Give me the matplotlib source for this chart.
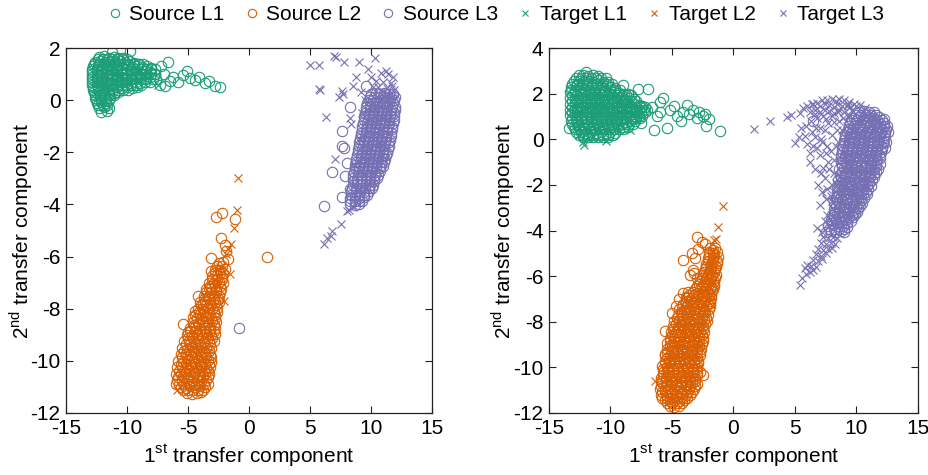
import numpy as np
import matplotlib
matplotlib.use("Agg")
import matplotlib.pyplot as plt
from matplotlib.lines import Line2D

plt.rcParams['font.family'] = ['Liberation Sans', 'DejaVu Sans']
plt.rcParams['mathtext.fontset'] = 'custom'
plt.rcParams['mathtext.rm'] = 'Liberation Sans'
plt.rcParams['axes.unicode_minus'] = False


def pts(*strings):
    s = ' '.join(strings)
    a = np.array(s.replace(',', ' ').split(), dtype=float).reshape(-1, 2)
    return a[:, 0], a[:, 1]


# ---- left panel --------------------------------------------------------
left_src1 = """
-12.3,1.64 -11.9,1.68 -11.5,1.62 -11.1,1.66 -10.7,1.6 -10.3,1.63
-12.6,1.48 -12.2,1.52 -11.8,1.46 -11.4,1.5 -11.0,1.47 -10.6,1.52 -10.2,1.45 -9.8,1.5 -9.4,1.44 -9.0,1.4
-12.8,1.3 -12.4,1.33 -12.0,1.28 -11.6,1.32 -11.2,1.27 -10.8,1.31 -10.4,1.29 -10.0,1.33 -9.6,1.27 -9.2,1.3 -8.8,1.26 -8.4,1.3 -8.0,1.24 -7.7,1.2
-12.9,1.1 -12.5,1.12 -12.1,1.08 -11.7,1.13 -11.3,1.07 -10.9,1.1 -10.5,1.12 -10.1,1.06 -9.7,1.1 -9.3,1.12 -8.9,1.05 -8.5,1.1 -8.1,1.08 -7.7,1.02
-12.9,0.9 -12.5,0.88 -12.1,0.92 -11.7,0.87 -11.3,0.91 -10.9,0.88 -10.5,0.9 -10.1,0.86 -9.7,0.92 -9.3,0.88 -8.9,0.9 -8.5,0.85 -8.1,0.88 -7.6,0.82
-12.9,0.7 -12.5,0.72 -12.1,0.68 -11.7,0.71 -11.3,0.67 -10.9,0.72 -10.5,0.68 -10.1,0.7 -9.7,0.66 -9.3,0.7 -8.9,0.65 -8.5,0.68 -8.1,0.7
-12.8,0.5 -12.4,0.52 -12.0,0.48 -11.6,0.51 -11.2,0.47 -10.8,0.52 -10.4,0.48 -10.0,0.5 -9.6,0.46 -9.2,0.5
-12.7,0.3 -12.3,0.32 -11.9,0.28 -11.5,0.31 -11.1,0.27 -10.7,0.33
-12.6,0.1 -12.2,0.12 -11.8,0.08 -11.4,0.1
-12.5,-0.1 -12.1,-0.08 -11.7,-0.12
-12.3,-0.3 -11.9,-0.28 -11.5,-0.32
-12.1,-0.45 -11.6,-0.4
-11.2,1.85 -9.75,1.88 -6.6,1.46 -7.2,1.3 -7.0,1.0 -7.3,0.6 -6.9,0.55 -6.5,0.75 -6.2,0.9
-5.8,0.7 -5.4,0.96 -5.1,1.1 -4.8,0.85 -4.4,0.77 -4.1,0.9 -3.6,0.66 -3.3,0.72 -2.8,0.54 -2.4,0.5
"""
left_src1_core = """
-12.4,1.57 -12.0,1.57 -11.6,1.57 -11.2,1.57 -10.8,1.57 -10.4,1.57 -10.0,1.57
-12.7,1.4 -12.3,1.4 -11.9,1.4 -11.5,1.4 -11.1,1.4 -10.7,1.4 -10.3,1.4 -9.9,1.4 -9.5,1.4 -9.1,1.4 -8.7,1.4
-12.85,1.2 -12.45,1.2 -12.05,1.2 -11.65,1.2 -11.25,1.2 -10.85,1.2 -10.45,1.2 -10.05,1.2 -9.65,1.2 -9.25,1.2 -8.85,1.2 -8.45,1.2 -8.05,1.2
-12.85,1.0 -12.45,1.0 -12.05,1.0 -11.65,1.0 -11.25,1.0 -10.85,1.0 -10.45,1.0 -10.05,1.0 -9.65,1.0 -9.25,1.0 -8.85,1.0 -8.45,1.0 -8.05,1.0 -7.7,1.0
-12.85,0.8 -12.45,0.8 -12.05,0.8 -11.65,0.8 -11.25,0.8 -10.85,0.8 -10.45,0.8 -10.05,0.8 -9.65,0.8 -9.25,0.8 -8.85,0.8 -8.45,0.8 -7.9,0.8
-12.85,0.6 -12.45,0.6 -12.05,0.6 -11.65,0.6 -11.25,0.6 -10.85,0.6 -10.45,0.6 -10.05,0.6 -9.65,0.6 -9.25,0.6 -8.85,0.6
-12.75,0.4 -12.35,0.4 -11.95,0.4 -11.55,0.4 -11.15,0.4 -10.75,0.4 -10.35,0.4 -9.95,0.4
-12.65,0.2 -12.25,0.2 -11.85,0.2 -11.45,0.2 -11.05,0.2
-12.55,0.0 -12.15,0.0 -11.75,0.0 -11.45,0.0
-12.4,-0.2 -12.0,-0.2 -11.6,-0.2
"""
left_tgt1 = "-7.5,0.58 -12.0,0.6 -11.0,1.0 -10.2,0.8 -9.0,1.1"

left_src2 = """
-5.1,-11.25 -4.7,-11.28 -4.3,-11.22 -3.9,-11.2
-5.6,-11.0 -5.2,-11.03 -4.8,-10.98 -4.4,-11.02 -4.0,-10.97 -3.6,-11.0
-5.9,-10.75 -5.5,-10.78 -5.1,-10.72 -4.7,-10.76 -4.3,-10.73 -3.9,-10.77 -3.5,-10.72
-6.0,-10.5 -5.6,-10.52 -5.2,-10.47 -4.8,-10.51 -4.4,-10.48 -4.0,-10.53 -3.6,-10.47 -3.3,-10.5
-5.9,-10.25 -5.5,-10.22 -5.1,-10.27 -4.7,-10.24 -4.3,-10.28 -3.9,-10.23 -3.5,-10.26 -3.2,-10.22
-5.8,-10.0 -5.4,-10.03 -5.0,-9.98 -4.6,-10.02 -4.2,-9.97 -3.8,-10.01 -3.4,-9.98 -3.1,-10.03
-5.6,-9.75 -5.2,-9.72 -4.8,-9.77 -4.4,-9.73 -4.0,-9.78 -3.6,-9.74 -3.2,-9.76
-5.5,-9.5 -5.1,-9.53 -4.7,-9.48 -4.3,-9.52 -3.9,-9.47 -3.5,-9.51 -3.1,-9.49
-5.3,-9.25 -4.9,-9.22 -4.5,-9.27 -4.1,-9.23 -3.7,-9.26 -3.3,-9.24 -2.9,-9.22
-5.1,-9.0 -4.7,-9.03 -4.3,-8.98 -3.9,-9.02 -3.5,-8.97 -3.1,-9.01 -2.8,-8.98
-4.8,-8.75 -4.4,-8.72 -4.0,-8.77 -3.6,-8.73 -3.2,-8.76 -2.8,-8.74
-4.6,-8.5 -4.2,-8.53 -3.8,-8.48 -3.4,-8.52 -3.0,-8.47 -2.7,-8.51
-4.4,-8.25 -4.0,-8.22 -3.6,-8.27 -3.2,-8.23 -2.8,-8.26
-4.2,-8.0 -3.8,-8.03 -3.4,-7.98 -3.0,-8.02 -2.6,-7.97
-4.0,-7.75 -3.6,-7.72 -3.2,-7.77 -2.8,-7.73 -2.45,-7.76
-3.7,-7.5 -3.3,-7.53 -2.9,-7.48 -2.5,-7.52
-3.5,-7.25 -3.1,-7.22 -2.7,-7.27 -2.3,-7.23
-3.3,-7.0 -2.9,-7.03 -2.5,-6.98 -2.15,-7.02
-3.0,-6.75 -2.6,-6.72 -2.2,-6.77
-2.8,-6.5 -2.4,-6.53 -2.0,-6.48
-2.5,-6.25 -2.1,-6.22
-2.7,-4.5 -2.2,-4.33 -1.15,-4.55 -3.1,-6.05 -3.1,-6.55 -3.3,-7.2 -5.4,-8.6 -4.4,-8.1
-3.8,-7.8 1.5,-6.0 -1.9,-5.8 -1.75,-6.1 -2.0,-5.55 -4.6,-8.3 -2.3,-5.3 -6.0,-10.9
-5.0,-8.9 -4.2,-7.5
"""
left_src2_core = """
-5.4,-11.12 -5.0,-11.12 -4.6,-11.12 -4.2,-11.12 -3.8,-11.12
-5.7,-10.87 -5.3,-10.87 -4.9,-10.87 -4.5,-10.87 -4.1,-10.87 -3.7,-10.87 -3.4,-10.87
-5.8,-10.62 -5.4,-10.62 -5.0,-10.62 -4.6,-10.62 -4.2,-10.62 -3.8,-10.62 -3.4,-10.62
-5.7,-10.37 -5.3,-10.37 -4.9,-10.37 -4.5,-10.37 -4.1,-10.37 -3.7,-10.37 -3.35,-10.37
-5.6,-10.12 -5.2,-10.12 -4.8,-10.12 -4.4,-10.12 -4.0,-10.12 -3.6,-10.12 -3.3,-10.12
-5.5,-9.87 -5.1,-9.87 -4.7,-9.87 -4.3,-9.87 -3.9,-9.87 -3.5,-9.87 -3.15,-9.87
-5.3,-9.62 -4.9,-9.62 -4.5,-9.62 -4.1,-9.62 -3.7,-9.62 -3.3,-9.62
-5.2,-9.37 -4.8,-9.37 -4.4,-9.37 -4.0,-9.37 -3.6,-9.37 -3.2,-9.37
-5.0,-9.12 -4.6,-9.12 -4.2,-9.12 -3.8,-9.12 -3.4,-9.12 -3.0,-9.12
-4.8,-8.87 -4.4,-8.87 -4.0,-8.87 -3.6,-8.87 -3.2,-8.87 -2.9,-8.87
-4.5,-8.62 -4.1,-8.62 -3.7,-8.62 -3.3,-8.62 -2.9,-8.62
-4.3,-8.37 -3.9,-8.37 -3.5,-8.37 -3.1,-8.37 -2.75,-8.37
-4.1,-8.12 -3.7,-8.12 -3.3,-8.12 -2.9,-8.12 -2.65,-8.12
-3.9,-7.87 -3.5,-7.87 -3.1,-7.87 -2.7,-7.87
-3.7,-7.62 -3.3,-7.62 -2.9,-7.62 -2.55,-7.62
-3.5,-7.37 -3.1,-7.37 -2.7,-7.37 -2.4,-7.37
-3.2,-7.12 -2.8,-7.12 -2.4,-7.12
-3.0,-6.87 -2.6,-6.87 -2.25,-6.87
-2.8,-6.62 -2.4,-6.62 -2.1,-6.62
-2.6,-6.37 -2.2,-6.37
"""
left_tgt2 = """
-0.9,-3.0 -1.0,-4.2 -1.25,-4.9 -1.5,-5.5 -1.85,-5.9 -1.7,-5.7 -1.55,-6.65 -2.05,-7.7
-2.4,-6.4 -2.6,-7.0 -5.9,-11.1
"""

left_src3 = """
10.0,0.25 10.4,0.27 10.75,0.23 11.1,0.26 11.45,0.22 11.8,0.25
9.8,0.0 10.15,0.02 10.5,-0.03 10.85,0.01 11.2,-0.02 11.55,0.03 11.9,-0.01
9.6,-0.25 9.95,-0.23 10.3,-0.27 10.65,-0.24 11.0,-0.26 11.35,-0.22 11.7,-0.25 12.0,-0.28
9.5,-0.5 9.85,-0.52 10.2,-0.48 10.55,-0.51 10.9,-0.47 11.25,-0.52 11.6,-0.49 11.9,-0.5
9.4,-0.75 9.75,-0.73 10.1,-0.77 10.45,-0.74 10.8,-0.76 11.15,-0.72 11.5,-0.75 11.85,-0.78
9.3,-1.0 9.65,-1.03 10.0,-0.98 10.35,-1.02 10.7,-0.97 11.05,-1.01 11.4,-0.99 11.75,-1.02
9.2,-1.25 9.55,-1.22 9.9,-1.27 10.25,-1.23 10.6,-1.26 10.95,-1.24 11.3,-1.22 11.65,-1.27
9.1,-1.5 9.45,-1.53 9.8,-1.48 10.15,-1.52 10.5,-1.47 10.85,-1.51 11.2,-1.49 11.55,-1.52
9.0,-1.75 9.35,-1.72 9.7,-1.77 10.05,-1.73 10.4,-1.76 10.75,-1.74 11.1,-1.72 11.45,-1.77
8.9,-2.0 9.25,-2.03 9.6,-1.98 9.95,-2.02 10.3,-1.97 10.65,-2.01 11.0,-1.99 11.3,-2.02
8.8,-2.25 9.15,-2.22 9.5,-2.27 9.85,-2.23 10.2,-2.26 10.55,-2.24 10.9,-2.22 11.15,-2.27
8.7,-2.5 9.05,-2.53 9.4,-2.48 9.75,-2.52 10.1,-2.47 10.45,-2.51 10.8,-2.49 11.0,-2.52
8.6,-2.75 8.95,-2.72 9.3,-2.77 9.65,-2.73 10.0,-2.76 10.35,-2.74 10.75,-2.72
8.5,-3.0 8.85,-3.03 9.2,-2.98 9.55,-3.02 9.9,-2.97 10.25,-3.01 10.5,-2.99
8.5,-3.25 8.85,-3.22 9.2,-3.27 9.55,-3.23 9.9,-3.26 10.2,-3.24
8.4,-3.5 8.75,-3.53 9.1,-3.48 9.45,-3.52 9.85,-3.47
8.3,-3.75 8.65,-3.72 9.0,-3.77 9.45,-3.73
8.3,-4.0 8.65,-4.03 9.0,-3.98
9.6,0.55 8.3,-0.25 7.6,-1.2 7.6,-1.75 7.75,-1.85 6.8,-2.75 6.15,-4.05 8.0,-2.4 8.3,-3.4
7.6,-3.7 7.9,-2.9 -0.8,-8.75
"""
left_src3_core = """
9.9,0.12 10.25,0.12 10.6,0.12 10.95,0.12 11.3,0.12 11.65,0.12 11.95,0.12
9.7,-0.12 10.05,-0.12 10.4,-0.12 10.75,-0.12 11.1,-0.12 11.45,-0.12 11.8,-0.12
9.55,-0.37 9.9,-0.37 10.25,-0.37 10.6,-0.37 10.95,-0.37 11.3,-0.37 11.65,-0.37 11.95,-0.37
9.45,-0.62 9.8,-0.62 10.15,-0.62 10.5,-0.62 10.85,-0.62 11.2,-0.62 11.55,-0.62 11.85,-0.62
9.35,-0.87 9.7,-0.87 10.05,-0.87 10.4,-0.87 10.75,-0.87 11.1,-0.87 11.45,-0.87 11.8,-0.87
9.25,-1.12 9.6,-1.12 9.95,-1.12 10.3,-1.12 10.65,-1.12 11.0,-1.12 11.35,-1.12 11.7,-1.12
9.15,-1.37 9.5,-1.37 9.85,-1.37 10.2,-1.37 10.55,-1.37 10.9,-1.37 11.25,-1.37 11.6,-1.37
9.05,-1.62 9.4,-1.62 9.75,-1.62 10.1,-1.62 10.45,-1.62 10.8,-1.62 11.15,-1.62 11.5,-1.62
8.95,-1.87 9.3,-1.87 9.65,-1.87 10.0,-1.87 10.35,-1.87 10.7,-1.87 11.05,-1.87 11.4,-1.87
8.85,-2.12 9.2,-2.12 9.55,-2.12 9.9,-2.12 10.25,-2.12 10.6,-2.12 10.95,-2.12 11.25,-2.12
8.75,-2.37 9.1,-2.37 9.45,-2.37 9.8,-2.37 10.15,-2.37 10.5,-2.37 10.85,-2.37 11.1,-2.37
8.65,-2.62 9.0,-2.62 9.35,-2.62 9.7,-2.62 10.05,-2.62 10.4,-2.62 10.75,-2.62
8.55,-2.87 8.9,-2.87 9.25,-2.87 9.6,-2.87 9.95,-2.87 10.3,-2.87 10.6,-2.87
8.5,-3.12 8.85,-3.12 9.2,-3.12 9.55,-3.12 9.9,-3.12 10.25,-3.12
8.45,-3.37 8.8,-3.37 9.15,-3.37 9.5,-3.37 9.85,-3.37 10.05,-3.37
8.35,-3.62 8.7,-3.62 9.05,-3.62 9.4,-3.62 9.7,-3.62
8.3,-3.87 8.65,-3.87 9.0,-3.87 9.3,-3.87
"""
left_tgt3 = """
5.0,1.35 5.7,1.35 7.0,1.7 7.1,1.65 7.8,1.46 9.0,1.46 10.3,1.6 5.7,0.43 5.8,0.38 7.6,0.35
7.4,0.12 7.7,0.25 8.5,0.54 6.3,-0.65 8.3,-0.7 8.4,-0.9 7.05,-2.26 8.0,-4.27 7.5,-4.75
6.8,-5.0 6.7,-5.2 6.15,-5.5 6.4,-5.3 9.75,1.2 10.0,0.9 11.4,1.0 11.6,0.65 11.0,0.7 10.6,0.5
11.2,1.1 11.8,0.9 11.9,0.4 10.8,1.05 10.4,0.75 9.2,0.3 9.5,0.0 11.5,0.2 12.0,0.1 11.7,0.55
11.3,0.45 10.9,0.35 10.2,0.5 8.8,-3.9 8.5,-4.1 8.2,-4.2 9.0,-3.5 8.7,-3.2 8.6,-2.5
9.0,-1.5 9.3,-0.5 8.8,0.9
"""

# ---- right panel -------------------------------------------------------
right_src1 = """
-12.6,2.8 -12.2,2.83 -11.8,2.78 -11.4,2.82 -11.0,2.77
-13.0,2.55 -12.6,2.57 -12.2,2.52 -11.8,2.56 -11.4,2.53 -11.0,2.58 -10.6,2.52 -10.2,2.5
-13.2,2.3 -12.8,2.33 -12.4,2.28 -12.0,2.32 -11.6,2.27 -11.2,2.31 -10.8,2.28 -10.4,2.33 -10.0,2.27 -9.6,2.25
-13.3,2.05 -12.9,2.07 -12.5,2.02 -12.1,2.06 -11.7,2.03 -11.3,2.07 -10.9,2.02 -10.5,2.06 -10.1,2.03 -9.7,2.05 -9.3,2.01 -8.9,2.0 -8.6,1.97
-13.3,1.8 -12.9,1.78 -12.5,1.83 -12.1,1.79 -11.7,1.82 -11.3,1.77 -10.9,1.81 -10.5,1.78 -10.1,1.83 -9.7,1.79 -9.3,1.82 -8.9,1.77 -8.5,1.8 -8.1,1.76
-13.3,1.55 -12.9,1.57 -12.5,1.52 -12.1,1.56 -11.7,1.53 -11.3,1.58 -10.9,1.52 -10.5,1.56 -10.1,1.53 -9.7,1.57 -9.3,1.52 -8.9,1.55 -8.5,1.51 -8.1,1.54 -7.7,1.5 -7.4,1.47
-13.3,1.3 -12.9,1.28 -12.5,1.33 -12.1,1.29 -11.7,1.32 -11.3,1.27 -10.9,1.31 -10.5,1.28 -10.1,1.33 -9.7,1.29 -9.3,1.32 -8.9,1.27 -8.5,1.31 -8.1,1.28 -7.7,1.3 -7.3,1.27 -7.0,1.3
-13.3,1.05 -12.9,1.07 -12.5,1.02 -12.1,1.06 -11.7,1.03 -11.3,1.08 -10.9,1.02 -10.5,1.06 -10.1,1.03 -9.7,1.07 -9.3,1.02 -8.9,1.05 -8.5,1.01 -8.1,1.04 -7.7,1.0 -7.4,1.02
-13.2,0.8 -12.8,0.78 -12.4,0.83 -12.0,0.79 -11.6,0.82 -11.2,0.77 -10.8,0.81 -10.4,0.78 -10.0,0.83 -9.6,0.79 -9.2,0.82 -8.8,0.77 -8.4,0.8 -8.0,0.78
-13.0,0.55 -12.6,0.57 -12.2,0.52 -11.8,0.56 -11.4,0.53 -11.0,0.58 -10.6,0.52 -10.2,0.56 -9.8,0.53 -9.4,0.57 -9.0,0.52 -8.6,0.55
-12.8,0.3 -12.4,0.32 -12.0,0.28 -11.6,0.31 -11.2,0.27 -10.8,0.33 -10.4,0.29 -10.0,0.31 -9.6,0.28
-12.2,0.1 -11.8,0.12 -11.4,0.08 -11.0,0.11 -10.6,0.09 -10.2,0.12
-6.95,2.2 -6.0,1.64 -5.2,1.3 -4.8,1.45 -5.4,0.5 -6.2,1.0 -4.1,1.2 -3.3,1.3 -3.0,0.95 -2.2,0.6
-1.1,0.35 -3.6,1.1 -2.8,1.2 -4.6,1.0 -6.0,1.2 -6.6,1.4 -2.5,1.0 -2.0,0.9 -2.3,1.1 -3.8,1.5
-4.3,0.8 -7.5,0.7 -13.4,0.5 -12.0,2.95 -8.2,0.9 -5.7,1.8 -6.5,0.4 -7.8,2.2 -9.0,2.4
"""
right_src1_core = """
-12.8,2.68 -12.4,2.68 -12.0,2.68 -11.6,2.68 -11.2,2.68 -10.8,2.68 -10.4,2.68
-13.1,2.43 -12.7,2.43 -12.3,2.43 -11.9,2.43 -11.5,2.43 -11.1,2.43 -10.7,2.43 -10.3,2.43 -9.9,2.43
-13.25,2.18 -12.85,2.18 -12.45,2.18 -12.05,2.18 -11.65,2.18 -11.25,2.18 -10.85,2.18 -10.45,2.18 -10.05,2.18 -9.65,2.18 -9.25,2.18
-13.1,1.93 -12.7,1.93 -12.3,1.93 -11.9,1.93 -11.5,1.93 -11.1,1.93 -10.7,1.93 -10.3,1.93 -9.9,1.93 -9.5,1.93 -9.1,1.93 -8.7,1.93 -8.3,1.93
-13.1,1.68 -12.7,1.68 -12.3,1.68 -11.9,1.68 -11.5,1.68 -11.1,1.68 -10.7,1.68 -10.3,1.68 -9.9,1.68 -9.5,1.68 -9.1,1.68 -8.7,1.68 -8.3,1.68 -7.9,1.68
-13.1,1.43 -12.7,1.43 -12.3,1.43 -11.9,1.43 -11.5,1.43 -11.1,1.43 -10.7,1.43 -10.3,1.43 -9.9,1.43 -9.5,1.43 -9.1,1.43 -8.7,1.43 -8.3,1.43 -7.9,1.43 -7.5,1.43 -7.2,1.43
-13.1,1.18 -12.7,1.18 -12.3,1.18 -11.9,1.18 -11.5,1.18 -11.1,1.18 -10.7,1.18 -10.3,1.18 -9.9,1.18 -9.5,1.18 -9.1,1.18 -8.7,1.18 -8.3,1.18 -7.9,1.18 -7.5,1.18 -7.2,1.18
-13.1,0.93 -12.7,0.93 -12.3,0.93 -11.9,0.93 -11.5,0.93 -11.1,0.93 -10.7,0.93 -10.3,0.93 -9.9,0.93 -9.5,0.93 -9.1,0.93 -8.7,0.93 -8.3,0.93 -7.9,0.93 -7.6,0.93
-13.1,0.68 -12.7,0.68 -12.3,0.68 -11.9,0.68 -11.5,0.68 -11.1,0.68 -10.7,0.68 -10.3,0.68 -9.9,0.68 -9.5,0.68 -9.1,0.68 -8.7,0.68 -8.2,0.68
-12.9,0.43 -12.5,0.43 -12.1,0.43 -11.7,0.43 -11.3,0.43 -10.9,0.43 -10.5,0.43 -10.1,0.43 -9.7,0.43 -9.3,0.43 -9.0,0.43
-12.6,0.2 -12.2,0.2 -11.8,0.2 -11.4,0.2 -11.0,0.2 -10.6,0.2 -10.2,0.2 -9.8,0.2
"""
right_tgt1 = """
-12.2,-0.12 -11.4,0.14 -10.4,-0.08 -12.15,-0.25 -11.8,0.05 -8.4,0.4 -9.5,0.5 -11.0,1.5
-10.0,1.0 -12.6,0.2
"""

right_src2 = """
-5.2,-11.7 -4.8,-11.72 -4.4,-11.68
-5.6,-11.45 -5.2,-11.47 -4.8,-11.43 -4.4,-11.46 -4.0,-11.44
-5.9,-11.2 -5.5,-11.22 -5.1,-11.18 -4.7,-11.21 -4.3,-11.17 -3.9,-11.22 -3.5,-11.19
-6.0,-10.95 -5.6,-10.97 -5.2,-10.93 -4.8,-10.96 -4.4,-10.92 -4.0,-10.97 -3.6,-10.94 -3.2,-10.96
-5.8,-10.7 -5.4,-10.72 -5.0,-10.68 -4.6,-10.71 -4.2,-10.67 -3.8,-10.72 -3.4,-10.69 -3.0,-10.71
-5.9,-10.45 -5.5,-10.47 -5.1,-10.43 -4.7,-10.46 -4.3,-10.42 -3.9,-10.47 -3.5,-10.44 -3.1,-10.46
-5.7,-10.2 -5.3,-10.22 -4.9,-10.18 -4.5,-10.21 -4.1,-10.17 -3.7,-10.22 -3.3,-10.19 -2.95,-10.21
-5.8,-9.95 -5.4,-9.97 -5.0,-9.93 -4.6,-9.96 -4.2,-9.92 -3.8,-9.97 -3.4,-9.94 -3.0,-9.96
-5.6,-9.7 -5.2,-9.72 -4.8,-9.68 -4.4,-9.71 -4.0,-9.67 -3.6,-9.72 -3.2,-9.69 -2.85,-9.71
-5.6,-9.45 -5.2,-9.47 -4.8,-9.43 -4.4,-9.46 -4.0,-9.42 -3.6,-9.47 -3.2,-9.44 -2.75,-9.46
-5.4,-9.2 -5.0,-9.22 -4.6,-9.18 -4.2,-9.21 -3.8,-9.17 -3.4,-9.22 -3.0,-9.19 -2.65,-9.21
-5.4,-8.95 -5.0,-8.97 -4.6,-8.93 -4.2,-8.96 -3.8,-8.92 -3.4,-8.97 -3.0,-8.94 -2.55,-8.96
-5.2,-8.7 -4.8,-8.72 -4.4,-8.68 -4.0,-8.71 -3.6,-8.67 -3.2,-8.72 -2.8,-8.69 -2.45,-8.71
-5.1,-8.45 -4.7,-8.47 -4.3,-8.43 -3.9,-8.46 -3.5,-8.42 -3.1,-8.47 -2.7,-8.44 -2.4,-8.46
-4.9,-8.2 -4.5,-8.22 -4.1,-8.18 -3.7,-8.21 -3.3,-8.17 -2.9,-8.22 -2.5,-8.19
-4.8,-7.95 -4.4,-7.97 -4.0,-7.93 -3.6,-7.96 -3.2,-7.92 -2.8,-7.97 -2.4,-7.94 -2.15,-7.96
-4.5,-7.7 -4.1,-7.72 -3.7,-7.68 -3.3,-7.71 -2.9,-7.67 -2.5,-7.72 -2.1,-7.69
-4.4,-7.45 -4.0,-7.47 -3.6,-7.43 -3.2,-7.46 -2.8,-7.42 -2.4,-7.47 -2.0,-7.44
-4.1,-7.2 -3.7,-7.22 -3.3,-7.18 -2.9,-7.21 -2.5,-7.17 -2.1,-7.22 -1.9,-7.19
-3.8,-6.95 -3.4,-6.97 -3.0,-6.93 -2.6,-6.96 -2.2,-6.92 -1.8,-6.97
-3.3,-6.7 -2.9,-6.72 -2.5,-6.68 -2.1,-6.71 -1.75,-6.67
-3.0,-6.45 -2.6,-6.47 -2.2,-6.43 -1.8,-6.46 -1.6,-6.44
-2.7,-6.2 -2.3,-6.22 -1.9,-6.18 -1.55,-6.21
-2.5,-5.95 -2.1,-5.97 -1.75,-5.93 -1.45,-5.96
-2.3,-5.7 -1.9,-5.72 -1.5,-5.68
-2.2,-5.45 -1.8,-5.47 -1.35,-5.43
-2.1,-5.2 -1.7,-5.22 -1.3,-5.18
-2.0,-4.95 -1.65,-4.97 -1.35,-4.93
-1.9,-4.75 -1.5,-4.77
-3.0,-4.3 -2.6,-4.5 -2.3,-4.6 -4.1,-5.3 -3.4,-5.0 -3.3,-5.75 -3.5,-5.95 -3.0,-6.1 -3.2,-5.85
-4.1,-6.75 -3.7,-6.7 -5.0,-7.6 -4.7,-7.3 -5.6,-8.4 -5.6,-9.4 -2.7,-10.2 -2.5,-10.35
-3.9,-6.9 -4.4,-7.0 -2.9,-4.8 -3.1,-5.2
"""
right_src2_core = """
-5.4,-11.58 -5.0,-11.58 -4.6,-11.58 -4.2,-11.58
-5.8,-11.33 -5.4,-11.33 -5.0,-11.33 -4.6,-11.33 -4.2,-11.33 -3.8,-11.33
-5.8,-11.08 -5.4,-11.08 -5.0,-11.08 -4.6,-11.08 -4.2,-11.08 -3.8,-11.08 -3.4,-11.08
-5.9,-10.83 -5.5,-10.83 -5.1,-10.83 -4.7,-10.83 -4.3,-10.83 -3.9,-10.83 -3.5,-10.83 -3.15,-10.83
-5.9,-10.58 -5.5,-10.58 -5.1,-10.58 -4.7,-10.58 -4.3,-10.58 -3.9,-10.58 -3.5,-10.58 -3.1,-10.58
-5.7,-10.33 -5.3,-10.33 -4.9,-10.33 -4.5,-10.33 -4.1,-10.33 -3.7,-10.33 -3.3,-10.33 -3.0,-10.33
-5.7,-10.08 -5.3,-10.08 -4.9,-10.08 -4.5,-10.08 -4.1,-10.08 -3.7,-10.08 -3.3,-10.08 -2.95,-10.08
-5.6,-9.83 -5.2,-9.83 -4.8,-9.83 -4.4,-9.83 -4.0,-9.83 -3.6,-9.83 -3.2,-9.83 -2.9,-9.83
-5.4,-9.58 -5.0,-9.58 -4.6,-9.58 -4.2,-9.58 -3.8,-9.58 -3.4,-9.58 -3.0,-9.58
-5.4,-9.33 -5.0,-9.33 -4.6,-9.33 -4.2,-9.33 -3.8,-9.33 -3.4,-9.33 -3.0,-9.33 -2.7,-9.33
-5.2,-9.08 -4.8,-9.08 -4.4,-9.08 -4.0,-9.08 -3.6,-9.08 -3.2,-9.08 -2.8,-9.08
-5.2,-8.83 -4.8,-8.83 -4.4,-8.83 -4.0,-8.83 -3.6,-8.83 -3.2,-8.83 -2.8,-8.83 -2.5,-8.83
-5.0,-8.58 -4.6,-8.58 -4.2,-8.58 -3.8,-8.58 -3.4,-8.58 -3.0,-8.58 -2.6,-8.58
-4.9,-8.33 -4.5,-8.33 -4.1,-8.33 -3.7,-8.33 -3.3,-8.33 -2.9,-8.33 -2.5,-8.33
-4.7,-8.08 -4.3,-8.08 -3.9,-8.08 -3.5,-8.08 -3.1,-8.08 -2.7,-8.08 -2.3,-8.08
-4.6,-7.83 -4.2,-7.83 -3.8,-7.83 -3.4,-7.83 -3.0,-7.83 -2.6,-7.83 -2.25,-7.83
-4.3,-7.58 -3.9,-7.58 -3.5,-7.58 -3.1,-7.58 -2.7,-7.58 -2.3,-7.58
-4.2,-7.33 -3.8,-7.33 -3.4,-7.33 -3.0,-7.33 -2.6,-7.33 -2.2,-7.33 -1.95,-7.33
-3.9,-7.08 -3.5,-7.08 -3.1,-7.08 -2.7,-7.08 -2.3,-7.08 -1.9,-7.08
-3.6,-6.83 -3.2,-6.83 -2.8,-6.83 -2.4,-6.83 -2.0,-6.83 -1.8,-6.83
-3.1,-6.58 -2.7,-6.58 -2.3,-6.58 -1.9,-6.58 -1.7,-6.58
-2.8,-6.33 -2.4,-6.33 -2.0,-6.33 -1.6,-6.33
-2.6,-6.08 -2.2,-6.08 -1.8,-6.08 -1.5,-6.08
-2.4,-5.83 -2.0,-5.83 -1.6,-5.83
-2.2,-5.58 -1.8,-5.58 -1.45,-5.58
-2.1,-5.33 -1.7,-5.33 -1.35,-5.33
-2.0,-5.08 -1.6,-5.08
-1.7,-4.85
"""
right_tgt2 = """
-0.85,-2.93 -1.27,-3.85 -1.4,-4.38 -1.55,-4.42 -6.4,-10.6 -1.7,-4.9 -2.0,-5.5 -1.6,-5.2
"""

right_src3 = """
10.2,1.2 10.6,1.22 11.0,1.18 11.4,1.21
9.8,0.95 10.2,0.97 10.6,0.93 11.0,0.96 11.4,0.92 11.8,0.97
9.5,0.7 9.9,0.72 10.3,0.68 10.7,0.71 11.1,0.67 11.5,0.72 11.9,0.69 12.25,0.71
9.3,0.45 9.7,0.47 10.1,0.43 10.5,0.46 10.9,0.42 11.3,0.47 11.7,0.44 12.1,0.46 12.4,0.43
9.1,0.2 9.5,0.22 9.9,0.18 10.3,0.21 10.7,0.17 11.1,0.22 11.5,0.19 11.9,0.21 12.35,0.18
9.0,-0.05 9.4,-0.03 9.8,-0.07 10.2,-0.04 10.6,-0.08 11.0,-0.03 11.4,-0.06 11.8,-0.04 12.2,-0.07
8.9,-0.3 9.3,-0.28 9.7,-0.32 10.1,-0.29 10.5,-0.33 10.9,-0.28 11.3,-0.31 11.7,-0.29 12.1,-0.32
8.8,-0.55 9.2,-0.53 9.6,-0.57 10.0,-0.54 10.4,-0.58 10.8,-0.53 11.2,-0.56 11.6,-0.54 12.0,-0.57
8.7,-0.8 9.1,-0.78 9.5,-0.82 9.9,-0.79 10.3,-0.83 10.7,-0.78 11.1,-0.81 11.5,-0.79 11.9,-0.82
8.75,-1.05 9.15,-1.03 9.55,-1.07 9.95,-1.04 10.35,-1.08 10.75,-1.03 11.15,-1.06 11.55,-1.04 11.9,-1.07
8.6,-1.3 9.0,-1.28 9.4,-1.32 9.8,-1.29 10.2,-1.33 10.6,-1.28 11.0,-1.31 11.4,-1.29 11.75,-1.32
8.65,-1.55 9.05,-1.53 9.45,-1.57 9.85,-1.54 10.25,-1.58 10.65,-1.53 11.05,-1.56 11.45,-1.54
8.5,-1.8 8.9,-1.78 9.3,-1.82 9.7,-1.79 10.1,-1.83 10.5,-1.78 10.9,-1.81 11.3,-1.79
8.45,-2.05 8.85,-2.03 9.25,-2.07 9.65,-2.04 10.05,-2.08 10.45,-2.03 10.85,-2.06 11.15,-2.04
8.4,-2.3 8.8,-2.28 9.2,-2.32 9.6,-2.29 10.0,-2.33 10.4,-2.28 10.8,-2.31
8.35,-2.55 8.75,-2.53 9.15,-2.57 9.55,-2.54 9.95,-2.58 10.35,-2.53 10.65,-2.56
8.2,-2.8 8.6,-2.78 9.0,-2.82 9.4,-2.79 9.8,-2.83 10.2,-2.78 10.45,-2.81
8.15,-3.05 8.55,-3.03 8.95,-3.07 9.35,-3.04 9.75,-3.08 10.15,-3.03
8.0,-3.3 8.4,-3.28 8.8,-3.32 9.2,-3.29 9.6,-3.33 9.9,-3.28
7.95,-3.55 8.35,-3.53 8.75,-3.57 9.15,-3.54 9.55,-3.58
7.7,-3.8 8.1,-3.78 8.5,-3.82 8.9,-3.79 9.25,-3.83
7.55,-4.05 7.95,-4.03 8.35,-4.07 8.75,-4.04 9.0,-4.08
6.45,0.8 7.7,-2.35 12.5,0.58 12.6,0.3 12.4,-0.1 12.2,0.9 12.3,-0.4
"""
right_src3_core = """
10.0,1.08 10.4,1.08 10.8,1.08 11.2,1.08 11.6,1.08
9.65,0.83 10.05,0.83 10.45,0.83 10.85,0.83 11.25,0.83 11.65,0.83 12.05,0.83
9.4,0.58 9.8,0.58 10.2,0.58 10.6,0.58 11.0,0.58 11.4,0.58 11.8,0.58 12.2,0.58
9.2,0.33 9.6,0.33 10.0,0.33 10.4,0.33 10.8,0.33 11.2,0.33 11.6,0.33 12.0,0.33 12.35,0.33
9.05,0.08 9.45,0.08 9.85,0.08 10.25,0.08 10.65,0.08 11.05,0.08 11.45,0.08 11.85,0.08 12.25,0.08
8.95,-0.17 9.35,-0.17 9.75,-0.17 10.15,-0.17 10.55,-0.17 10.95,-0.17 11.35,-0.17 11.75,-0.17 12.15,-0.17
8.85,-0.42 9.25,-0.42 9.65,-0.42 10.05,-0.42 10.45,-0.42 10.85,-0.42 11.25,-0.42 11.65,-0.42 12.05,-0.42
8.75,-0.67 9.15,-0.67 9.55,-0.67 9.95,-0.67 10.35,-0.67 10.75,-0.67 11.15,-0.67 11.55,-0.67 11.95,-0.67
8.9,-0.92 9.3,-0.92 9.7,-0.92 10.1,-0.92 10.5,-0.92 10.9,-0.92 11.3,-0.92 11.7,-0.92
8.8,-1.17 9.2,-1.17 9.6,-1.17 10.0,-1.17 10.4,-1.17 10.8,-1.17 11.2,-1.17 11.6,-1.17
8.8,-1.42 9.2,-1.42 9.6,-1.42 10.0,-1.42 10.4,-1.42 10.8,-1.42 11.2,-1.42 11.55,-1.42
8.7,-1.67 9.1,-1.67 9.5,-1.67 9.9,-1.67 10.3,-1.67 10.7,-1.67 11.1,-1.67 11.45,-1.67
8.65,-1.92 9.05,-1.92 9.45,-1.92 9.85,-1.92 10.25,-1.92 10.65,-1.92 11.05,-1.92
8.6,-2.17 9.0,-2.17 9.4,-2.17 9.8,-2.17 10.2,-2.17 10.6,-2.17 10.95,-2.17
8.55,-2.42 8.95,-2.42 9.35,-2.42 9.75,-2.42 10.15,-2.42 10.55,-2.42 10.85,-2.42
8.4,-2.67 8.8,-2.67 9.2,-2.67 9.6,-2.67 10.0,-2.67 10.4,-2.67
8.35,-2.92 8.75,-2.92 9.15,-2.92 9.55,-2.92 9.95,-2.92 10.3,-2.92
8.2,-3.17 8.6,-3.17 9.0,-3.17 9.4,-3.17 9.8,-3.17 10.05,-3.17
8.15,-3.42 8.55,-3.42 8.95,-3.42 9.35,-3.42 9.7,-3.42
8.0,-3.67 8.4,-3.67 8.8,-3.67 9.2,-3.67
7.8,-3.92 8.2,-3.92 8.6,-3.92 9.0,-3.92
"""
right_tgt3 = """
1.67,0.45 3.0,0.8 4.35,0.97 4.7,1.05 5.4,1.15 5.65,1.37 6.0,1.45 6.4,1.55 6.8,1.6 7.2,1.7
7.6,1.72 8.0,1.75 8.3,1.68 8.6,1.75 9.0,1.7 9.4,1.65 9.8,1.55 10.3,1.5 10.7,1.35 11.1,1.15
11.5,0.85 7.0,1.45 7.8,1.5 8.8,1.45 6.6,1.3 9.6,1.3 10.0,1.45 10.5,1.2 8.2,1.4 9.2,1.45
5.0,-0.17 5.8,0.15 6.2,-0.6 6.2,-1.0 6.8,-0.4 7.0,0.5 6.3,0.8 7.3,-1.26 7.4,-1.7 7.0,-2.9
7.6,-3.3 6.8,-3.9 7.2,-4.05 8.0,-2.0 7.9,-0.5 8.6,0.8 9.2,0.0 9.5,1.4 7.5,0.9 8.0,0.2
6.6,0.1 7.7,-1.0 8.2,-1.5 7.9,-2.5 8.0,1.0 8.5,1.2 7.2,-0.1 8.3,-0.3 8.4,0.4 7.6,-2.2
8.1,-3.0 8.2,-0.9
6.2,1.2 6.6,1.1 7.0,1.2 7.4,1.3 7.8,1.25 8.2,1.15 8.6,1.3 9.0,1.2 9.4,1.05 6.8,0.95
7.3,1.0 7.7,0.7 8.2,0.75 8.9,0.95 9.2,0.6 6.5,1.55 7.4,1.55 8.4,1.55 9.3,1.55 5.9,0.6
6.7,0.5 7.4,0.4 8.8,0.4 6.4,0.3 7.1,0.0 7.6,-0.3 6.5,-0.3 7.0,-0.7 7.5,-0.6 8.5,-0.1
6.6,-1.3 7.1,-1.5 7.8,-1.3 8.3,-1.9 7.2,-2.3 7.5,-2.6 8.0,-2.7 6.9,-2.0 7.4,-3.6 7.8,-3.8
8.1,-3.6 5.5,0.5 5.3,0.1 6.0,-0.2
7.3,-4.3 7.7,-4.35 8.1,-4.3 8.45,-4.35 7.1,-4.55 7.5,-4.6 7.9,-4.55 8.25,-4.6 6.9,-4.8
7.3,-4.85 7.7,-4.8 8.0,-4.75 6.7,-5.05 7.1,-5.1 7.5,-5.0 6.5,-5.3 6.9,-5.35 7.2,-5.25
6.3,-5.55 6.7,-5.6 6.2,-5.8 5.4,-6.4 5.6,-6.1 5.9,-5.9 6.0,-5.5 5.8,-5.65 6.5,-5.75
9.3,1.0 10.0,0.8 10.8,1.0 11.2,0.6 9.7,0.3 10.4,0.1 9.0,-0.7 9.4,-1.4 8.8,-2.6 9.1,-3.5
"""

labels = ['Source L1', 'Source L2', 'Source L3', 'Target L1', 'Target L2', 'Target L3']
colors = ['#1b9e77', '#d95f02', '#7570b3', '#1b9e77', '#d95f02', '#7570b3']
markers = ['o', 'o', 'o', 'x', 'x', 'x']

panels = [
    ([(left_src1, left_src1_core), (left_src2, left_src2_core),
      (left_src3, left_src3_core), (left_tgt1,), (left_tgt2,), (left_tgt3,)], (-12, 2)),
    ([(right_src1, right_src1_core), (right_src2, right_src2_core),
      (right_src3, right_src3_core), (right_tgt1,), (right_tgt2,), (right_tgt3,)], (-12, 4)),
]

fig = plt.figure(figsize=(9.29, 4.75), dpi=100)
ax_left = fig.add_axes([66 / 929, 62 / 475, 366 / 929, 365 / 475])
ax_right = fig.add_axes([549 / 929, 62 / 475, 369 / 929, 365 / 475])

for ax, (series, ylim) in zip([ax_left, ax_right], panels):
    for s, c, m in zip(series, colors, markers):
        x, y = pts(*s)
        if m == 'o':
            ax.plot(x, y, linestyle='none', marker='o', ms=7.5, mfc='none',
                    mec=c, mew=0.8)
        else:
            ax.plot(x, y, linestyle='none', marker='x', ms=5.5, mec=c, mew=0.8)
    ax.set_xlim(-15, 15)
    ax.set_ylim(*ylim)
    ax.set_xticks(np.arange(-15, 16, 5))
    ax.set_yticks(np.arange(ylim[0], ylim[1] + 1, 2))
    ax.tick_params(direction='in', length=5, width=0.8, top=True, right=True,
                   labelsize=15, pad=4, colors='#222222', labelcolor='black')
    for sp in ax.spines.values():
        sp.set_color('#222222')
        sp.set_linewidth(0.9)
    ax.set_xlabel('1$^{\\rm st}$ transfer component', fontsize=15, labelpad=4)
    ax.set_ylabel('2$^{\\rm nd}$ transfer component', fontsize=15)
    ax.yaxis.set_label_coords(-0.086, 0.5)

handles = [Line2D([], [], linestyle='none', marker=m, ms=(6 if m == 'o' else 4.5),
                  mfc='none', mec=c, mew=0.8)
           for m, c in zip(markers, colors)]
fig.legend(handles, labels, loc='center', bbox_to_anchor=(0.532, 1 - 15 / 475),
           ncol=6, frameon=False, fontsize=15, handlelength=1.0,
           handletextpad=0.2, columnspacing=0.8)

fig.savefig('out.png', dpi=100)
